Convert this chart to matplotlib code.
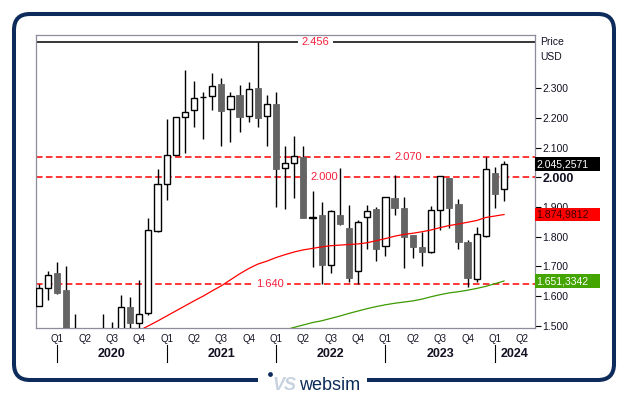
import numpy as np
import matplotlib
matplotlib.use("Agg")
import matplotlib.pyplot as plt
from matplotlib.patches import FancyBboxPatch, Rectangle, Circle
from matplotlib.transforms import blended_transform_factory

plt.rcParams['font.family'] = ['Liberation Sans', 'DejaVu Sans']

# monthly candles, Nov 2019 .. Feb 2024
opens  = [1.568, 1.626, 1.678, 1.621, 1.420, 1.200, 1.100, 1.380, 1.450, 1.470,
          1.562, 1.508, 1.542, 1.821, 1.977, 2.074, 2.203, 2.226, 2.270, 2.273,
          2.315, 2.230, 2.277, 2.206, 2.301, 2.206, 2.248, 2.031, 2.048, 2.070,
          1.865, 1.872, 1.704, 1.873, 1.830, 1.686, 1.866, 1.894, 1.770, 1.930,
          1.897, 1.806, 1.766, 1.750, 1.889, 1.999, 1.909, 1.782, 1.659, 1.804,
          2.015, 1.960]
highs  = [1.640, 1.685, 1.715, 1.703, 1.540, 1.300, 1.420, 1.540, 1.512, 1.604,
          1.596, 1.654, 1.862, 2.027, 2.197, 2.203, 2.362, 2.325, 2.289, 2.351,
          2.336, 2.289, 2.312, 2.321, 2.456, 2.278, 2.289, 2.105, 2.140, 2.106,
          1.954, 1.918, 1.890, 2.033, 1.907, 1.857, 1.907, 1.900, 1.933, 2.007,
          1.934, 1.806, 1.817, 1.905, 2.004, 1.999, 1.927, 1.788, 1.832, 2.070,
          2.034, 2.055]
lows   = [1.568, 1.587, 1.607, 1.400, 1.150, 1.000, 1.080, 1.330, 1.400, 1.440,
          1.480, 1.494, 1.536, 1.817, 1.925, 2.074, 2.083, 2.171, 2.131, 2.227,
          2.107, 2.121, 2.154, 2.188, 2.169, 2.107, 1.900, 1.895, 1.931, 1.863,
          1.699, 1.640, 1.679, 1.840, 1.649, 1.642, 1.758, 1.718, 1.736, 1.873,
          1.696, 1.727, 1.703, 1.744, 1.823, 1.831, 1.760, 1.632, 1.649, 1.800,
          1.898, 1.922]
closes = [1.626, 1.671, 1.612, 1.420, 1.200, 1.100, 1.380, 1.450, 1.470, 1.562,
          1.508, 1.539, 1.823, 1.977, 2.074, 2.203, 2.222, 2.267, 2.272, 2.309,
          2.225, 2.276, 2.205, 2.297, 2.199, 2.246, 2.030, 2.049, 2.071, 1.863,
          1.866, 1.706, 1.886, 1.844, 1.662, 1.849, 1.886, 1.760, 1.933, 1.898,
          1.800, 1.767, 1.750, 1.889, 2.004, 1.898, 1.783, 1.662, 1.808, 2.027,
          1.945, 2.045]

nan = np.nan
ma_red = [nan] * 11 + [1.484, 1.500, 1.516, 1.533, 1.550, 1.567, 1.584, 1.600, 1.618,
          1.635, 1.655, 1.675, 1.693, 1.708, 1.718, 1.730, 1.740, 1.749, 1.756,
          1.761, 1.766, 1.770, 1.772, 1.774, 1.776, 1.780, 1.787, 1.794, 1.802,
          1.808, 1.812, 1.817, 1.823, 1.831, 1.838, 1.843, 1.849, 1.855, 1.865,
          1.870, 1.875]
ma_green = [nan] * 27 + [1.486, 1.495, 1.503, 1.511, 1.517, 1.525, 1.533, 1.542,
            1.550, 1.558, 1.565, 1.571, 1.576, 1.580, 1.584, 1.590, 1.598, 1.605,
            1.611, 1.615, 1.620, 1.626, 1.633, 1.642, 1.651]

levels = [2.456, 2.070, 2.000, 1.640]
level_labels = ["2.456", "2.070", "2.000", "1.640"]
quarters = ["Q1", "Q2", "Q3", "Q4"] * 4 + ["Q1", "Q2"]
years = ["2020", "2021", "2022", "2023", "2024"]
last_price = "2.045,2571"
red_last = "1.874,9812"
green_last = "1.651,3342"

navy = '#0D2B5B'
lvl_red = '#F5203A'

fig = plt.figure(figsize=(6.29, 3.95), dpi=100)

# background layer in pixel coordinates
bg = fig.add_axes([0, 0, 1, 1], zorder=0)
bg.set_xlim(0, 629)
bg.set_ylim(395, 0)
bg.axis('off')
frame = FancyBboxPatch((14, 14), 600, 366, boxstyle="round,pad=0,rounding_size=16",
                       fc='none', ec=navy, lw=2.9)
bg.add_patch(frame)
bg.add_patch(Rectangle((258, 374), 109, 12, fc='white', ec='none'))
bg.add_patch(Circle((270.5, 374.5), 2.4, fc=navy, ec='none'))
bg.text(272, 390, "VS", color='#C7D2E0', fontsize=13, fontweight='bold',
        fontstyle='italic', va='baseline', ha='left')
bg.text(299, 390, "websim", color=navy, fontsize=13, va='baseline', ha='left')
bg.text(540, 42, "Price", fontsize=7.5, va='center', ha='left', color='#111122')
bg.text(540, 57, "USD", fontsize=7.5, va='center', ha='left', color='#111122')

ax = fig.add_axes([35.5 / 629, 1 - 328 / 395, 499.5 / 629, 293 / 395], zorder=1)
n = len(opens)
x = np.arange(n)
ax.set_xlim(-0.38, 54.4)
ax.set_ylim(1.4927, 2.480)

o = np.array(opens); h = np.array(highs); l = np.array(lows); c = np.array(closes)
up = c >= o
ax.vlines(x, l, h, color='black', lw=1.0, zorder=3)
body_lo = np.minimum(o, c)
body_h = np.maximum(np.abs(c - o), 0.0005)
ax.bar(x[up], body_h[up], 0.68, bottom=body_lo[up], fc='white', ec='black',
       lw=1.0, zorder=4)
ax.bar(x[~up], body_h[~up], 0.68, bottom=body_lo[~up], fc='#646464', ec='#646464',
       lw=0.6, zorder=4)

ax.plot(x, ma_red, color='#FF0000', lw=0.9, zorder=5)
ax.plot(x, ma_green, color='#3C9A00', lw=0.9, zorder=5)

# horizontal levels with labels
label_x = [30.3, 40.5, 31.3, 25.3]
for lev, txt, lx in zip(levels, level_labels, label_x):
    if lev == max(levels):
        ax.axhline(lev, color='black', lw=1.1, zorder=2)
    else:
        ax.axhline(lev, color='#FF0000', lw=1.1, ls=(0, (4.3, 2.2)), zorder=2)
    ax.text(lx, lev, txt, color=lvl_red, fontsize=8, ha='center', va='center',
            zorder=2.5, bbox=dict(fc='white', ec='none', pad=2.5))

# right axis
ax.yaxis.tick_right()
yt = np.round(np.arange(1.5, 2.31, 0.1), 3)
ax.set_yticks(yt)
ax.set_yticklabels([f"{v:.3f}" for v in yt])
ax.tick_params(axis='y', direction='out', length=4, width=0.8, pad=1.5,
               labelsize=7.5, labelcolor='#111122')
for lab, v in zip(ax.get_yticklabels(), yt):
    if abs(v - 2.0) < 1e-6:
        lab.set_fontweight('bold')
        lab.set_fontsize(9)
ax.set_xticks([])
for s in ax.spines.values():
    s.set_color('#8C8C9C')
    s.set_linewidth(0.9)

# last value boxes
tb = blended_transform_factory(ax.transAxes, ax.transData)
box_h = 13.3 / 296.7
for val, txt, fc, tc in [(2.045, last_price, 'black', 'white'),
                         (1.875, red_last, '#FF0000', '#3A0000'),
                         (1.651, green_last, '#44A500', 'white')]:
    ax.add_patch(Rectangle((1.0, val - box_h / 2), 65 / 499.5, box_h, transform=tb,
                           fc=fc, ec='none', clip_on=False, zorder=10))
    ax.text(1.003, val, txt, transform=tb, color=tc, fontsize=7.5, ha='left',
            va='center', zorder=11, clip_on=False)

# time axis
tx = blended_transform_factory(ax.transData, bg.transData)
q_pos = 2 + 3 * np.arange(len(quarters))
for qp, q in zip(q_pos, quarters):
    bg.text(qp, 339, q, transform=tx, fontsize=7, ha='center', va='center',
            color='#111122')
y_pos = q_pos[::4]
for yp in y_pos:
    bg.plot([yp, yp], [345, 362], transform=tx, color='black', lw=0.8)
year_x = [8, 20, 32, 44, 52.2]
for yx, yr in zip(year_x, years):
    bg.text(yx, 354, yr, transform=tx, fontsize=9, fontweight='bold', ha='center',
            va='center', color='#111122')

fig.savefig("out.png", dpi=100)
